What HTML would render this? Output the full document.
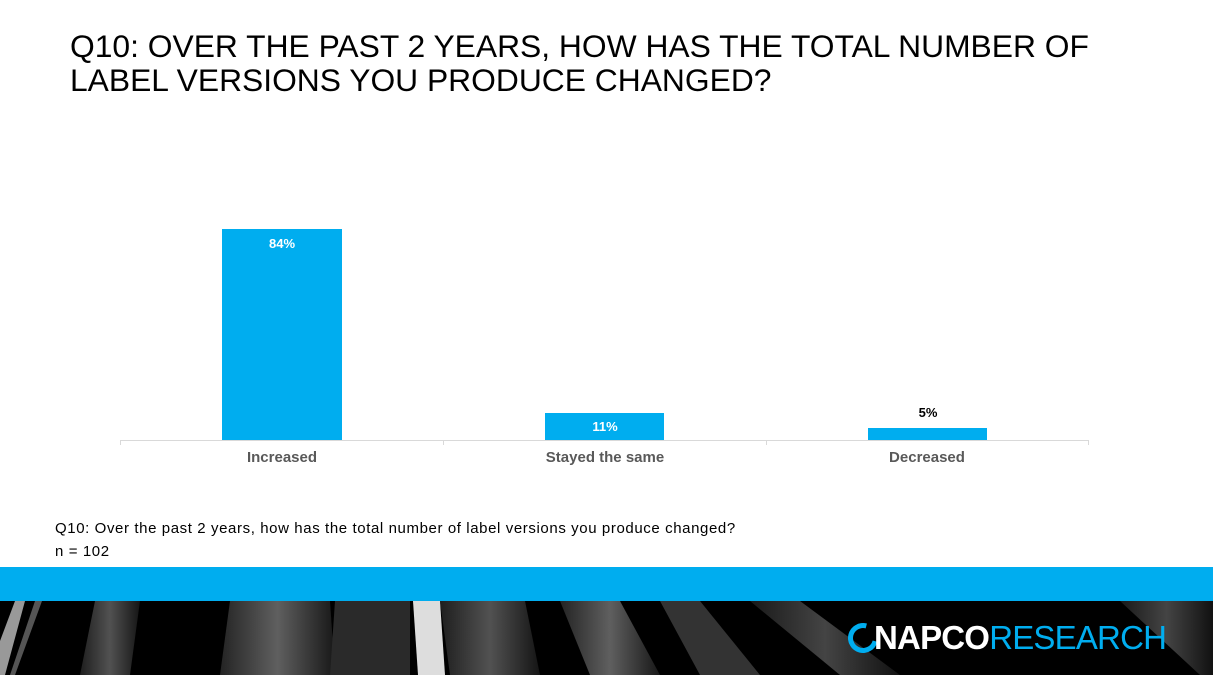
<!DOCTYPE html>
<html><head><style>
body{margin:0;width:1213px;height:675px;overflow:hidden;background:#fff;font-family:"Liberation Sans",sans-serif;position:relative}
.t{position:absolute;left:70px;top:29px;font-size:31.8px;line-height:34px;color:#000;white-space:nowrap}
.bar{position:absolute;background:#00adef}
.v{position:absolute;font-size:13px;font-weight:bold;text-align:center;width:120px}
.c{position:absolute;top:449px;font-size:15px;font-weight:bold;color:#595959;text-align:center;width:200px}
.n{position:absolute;left:55px;font-size:15px;letter-spacing:0.6px;color:#000;white-space:nowrap}
</style></head><body>
<div class="t">Q10: OVER THE PAST 2 YEARS, HOW HAS THE TOTAL NUMBER OF<br>LABEL VERSIONS YOU PRODUCE CHANGED?</div>
<div style="position:absolute;left:120px;top:440px;width:968px;height:1px;background:#d9d9d9"></div>
<div style="position:absolute;left:443px;top:440px;width:1px;height:5px;background:#d9d9d9"></div>
<div style="position:absolute;left:766px;top:440px;width:1px;height:5px;background:#d9d9d9"></div>
<div style="position:absolute;left:1088px;top:440px;width:1px;height:5px;background:#d9d9d9"></div>
<div style="position:absolute;left:120px;top:440px;width:1px;height:5px;background:#d9d9d9"></div>
<div class="bar" style="left:222px;top:229px;width:120px;height:211px"></div>
<div class="bar" style="left:545px;top:413px;width:119px;height:27px"></div>
<div class="bar" style="left:868px;top:428px;width:119px;height:12px"></div>
<div class="v" style="left:222px;top:236px;color:#fff">84%</div>
<div class="v" style="left:545px;top:419px;color:#fff">11%</div>
<div class="v" style="left:868px;top:405px;color:#000">5%</div>
<div class="c" style="left:182px">Increased</div>
<div class="c" style="left:505px">Stayed the same</div>
<div class="c" style="left:827px">Decreased</div>
<div class="n" style="top:520px">Q10: Over the past 2 years, how has the total number of label versions you produce changed?</div>
<div class="n" style="top:543px">n = 102</div>
<div style="position:absolute;left:0;top:567px;width:1213px;height:34px;background:#00adef"></div>
<div style="position:absolute;left:0;top:601px;width:1213px;height:74px;background:#000;overflow:hidden">
<svg width="1213" height="74">
<defs><linearGradient id="g" x1="0" x2="1"><stop offset="0" stop-color="#333"/><stop offset=".5" stop-color="#888"/><stop offset="1" stop-color="#222"/></linearGradient></defs>
<polygon points="15,0 25,0 5,74 0,74 0,40" fill="#999"/>
<polygon points="35,0 42,0 15,74 10,74" fill="#555"/>
<polygon points="95,0 140,0 130,74 80,74" fill="url(#g)" opacity=".6"/>
<polygon points="230,0 330,0 335,74 220,74" fill="url(#g)" opacity=".7"/>
<polygon points="335,0 410,0 410,74 330,74" fill="#2a2a2a"/>
<polygon points="413,0 440,0 445,74 418,74" fill="#ddd"/>
<polygon points="440,0 525,0 540,74 450,74" fill="url(#g)" opacity=".6"/>
<polygon points="560,0 620,0 660,74 590,74" fill="url(#g)" opacity=".7"/>
<polygon points="660,0 700,0 760,74 700,74" fill="#333"/>
<polygon points="750,0 800,0 900,74 840,74" fill="url(#g)" opacity=".5"/>
<polygon points="1120,0 1213,0 1213,74 1200,74" fill="url(#g)" opacity=".5"/>
</svg>
<div style="position:absolute;left:848px;top:22px;width:20px;height:20px;border:5px solid #00adef;border-radius:50%;border-right-color:transparent;transform:rotate(-30deg)"></div>
<div style="position:absolute;left:874px;top:19px;font-size:33px;line-height:36px;letter-spacing:-0.8px"><b style="color:#fff">NAPCO</b><span style="color:#00adef">RESEARCH</span></div>
</div>
</body></html>
